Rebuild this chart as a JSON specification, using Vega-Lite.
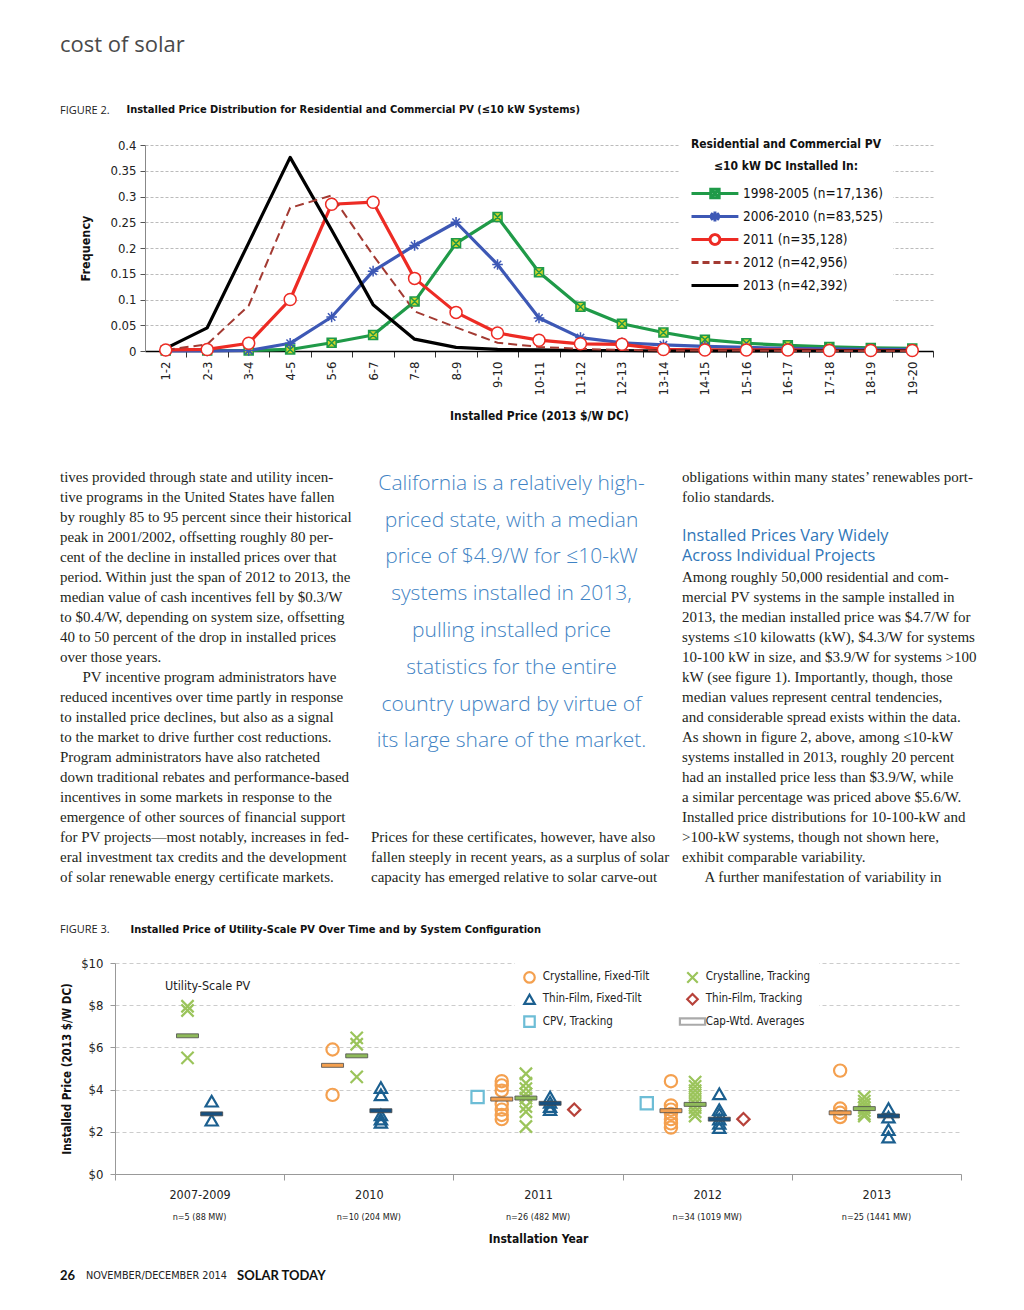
{
  "$schema": "https://vega.github.io/schema/vega-lite/v6.json",
  "background": "white",
  "padding": {"left": 60, "top": 34, "right": 20, "bottom": 10},
  "title": {"text": "cost of solar", "anchor": "start", "font": "Open Sans", "fontSize": 22, "fontWeight": "normal", "color": "#4a4a4a", "offset": 46},
  "columns": 1,
  "align": "none",
  "spacing": 20,
  "resolve": {"scale": {"color": "independent", "stroke": "independent", "shape": "independent", "fill": "independent", "strokeDash": "independent", "size": "independent", "strokeWidth": "independent"}},
  "config": {
    "view": {"stroke": null},
    "axis": {"labelFont": "Liberation Sans Narrow, DejaVu Sans Condensed, Roboto Condensed, Roboto, sans-serif", "titleFont": "Liberation Sans Narrow, DejaVu Sans Condensed, Roboto Condensed, Roboto, sans-serif", "labelColor": "#222", "titleColor": "#111"},
    "legend": {"labelFont": "Liberation Sans Narrow, DejaVu Sans Condensed, Roboto Condensed, Roboto, sans-serif", "titleFont": "Liberation Sans Narrow, DejaVu Sans Condensed, Roboto Condensed, Roboto, sans-serif"},
    "title": {"font": "Open Sans"}
  },
  "datasets": {
    "fig2": [
      {"bin":"1-2","series":"1998-2005 (n=17,136)","freq":0.001},{"bin":"2-3","series":"1998-2005 (n=17,136)","freq":0.001},{"bin":"3-4","series":"1998-2005 (n=17,136)","freq":0.001},{"bin":"4-5","series":"1998-2005 (n=17,136)","freq":0.003},{"bin":"5-6","series":"1998-2005 (n=17,136)","freq":0.016},{"bin":"6-7","series":"1998-2005 (n=17,136)","freq":0.031},{"bin":"7-8","series":"1998-2005 (n=17,136)","freq":0.096},{"bin":"8-9","series":"1998-2005 (n=17,136)","freq":0.209},{"bin":"9-10","series":"1998-2005 (n=17,136)","freq":0.26},{"bin":"10-11","series":"1998-2005 (n=17,136)","freq":0.153},{"bin":"11-12","series":"1998-2005 (n=17,136)","freq":0.086},{"bin":"12-13","series":"1998-2005 (n=17,136)","freq":0.053},{"bin":"13-14","series":"1998-2005 (n=17,136)","freq":0.036},{"bin":"14-15","series":"1998-2005 (n=17,136)","freq":0.022},{"bin":"15-16","series":"1998-2005 (n=17,136)","freq":0.015},{"bin":"16-17","series":"1998-2005 (n=17,136)","freq":0.011},{"bin":"17-18","series":"1998-2005 (n=17,136)","freq":0.008},{"bin":"18-19","series":"1998-2005 (n=17,136)","freq":0.006},{"bin":"19-20","series":"1998-2005 (n=17,136)","freq":0.005},
      {"bin":"1-2","series":"2006-2010 (n=83,525)","freq":0.0},{"bin":"2-3","series":"2006-2010 (n=83,525)","freq":0.0},{"bin":"3-4","series":"2006-2010 (n=83,525)","freq":0.001},{"bin":"4-5","series":"2006-2010 (n=83,525)","freq":0.015},{"bin":"5-6","series":"2006-2010 (n=83,525)","freq":0.066},{"bin":"6-7","series":"2006-2010 (n=83,525)","freq":0.155},{"bin":"7-8","series":"2006-2010 (n=83,525)","freq":0.205},{"bin":"8-9","series":"2006-2010 (n=83,525)","freq":0.25},{"bin":"9-10","series":"2006-2010 (n=83,525)","freq":0.168},{"bin":"10-11","series":"2006-2010 (n=83,525)","freq":0.064},{"bin":"11-12","series":"2006-2010 (n=83,525)","freq":0.026},{"bin":"12-13","series":"2006-2010 (n=83,525)","freq":0.016},{"bin":"13-14","series":"2006-2010 (n=83,525)","freq":0.012},{"bin":"14-15","series":"2006-2010 (n=83,525)","freq":0.009},{"bin":"15-16","series":"2006-2010 (n=83,525)","freq":0.007},{"bin":"16-17","series":"2006-2010 (n=83,525)","freq":0.005},{"bin":"17-18","series":"2006-2010 (n=83,525)","freq":0.004},{"bin":"18-19","series":"2006-2010 (n=83,525)","freq":0.003},{"bin":"19-20","series":"2006-2010 (n=83,525)","freq":0.003},
      {"bin":"1-2","series":"2011 (n=35,128)","freq":0.002},{"bin":"2-3","series":"2011 (n=35,128)","freq":0.003},{"bin":"3-4","series":"2011 (n=35,128)","freq":0.015},{"bin":"4-5","series":"2011 (n=35,128)","freq":0.1},{"bin":"5-6","series":"2011 (n=35,128)","freq":0.285},{"bin":"6-7","series":"2011 (n=35,128)","freq":0.289},{"bin":"7-8","series":"2011 (n=35,128)","freq":0.141},{"bin":"8-9","series":"2011 (n=35,128)","freq":0.075},{"bin":"9-10","series":"2011 (n=35,128)","freq":0.035},{"bin":"10-11","series":"2011 (n=35,128)","freq":0.021},{"bin":"11-12","series":"2011 (n=35,128)","freq":0.014},{"bin":"12-13","series":"2011 (n=35,128)","freq":0.013},{"bin":"13-14","series":"2011 (n=35,128)","freq":0.003},{"bin":"14-15","series":"2011 (n=35,128)","freq":0.002},{"bin":"15-16","series":"2011 (n=35,128)","freq":0.002},{"bin":"16-17","series":"2011 (n=35,128)","freq":0.002},{"bin":"17-18","series":"2011 (n=35,128)","freq":0.001},{"bin":"18-19","series":"2011 (n=35,128)","freq":0.001},{"bin":"19-20","series":"2011 (n=35,128)","freq":0.001},
      {"bin":"1-2","series":"2012 (n=42,956)","freq":0.002},{"bin":"2-3","series":"2012 (n=42,956)","freq":0.013},{"bin":"3-4","series":"2012 (n=42,956)","freq":0.088},{"bin":"4-5","series":"2012 (n=42,956)","freq":0.278},{"bin":"5-6","series":"2012 (n=42,956)","freq":0.302},{"bin":"6-7","series":"2012 (n=42,956)","freq":0.186},{"bin":"7-8","series":"2012 (n=42,956)","freq":0.077},{"bin":"8-9","series":"2012 (n=42,956)","freq":0.046},{"bin":"9-10","series":"2012 (n=42,956)","freq":0.016},{"bin":"10-11","series":"2012 (n=42,956)","freq":0.008},{"bin":"11-12","series":"2012 (n=42,956)","freq":0.004},{"bin":"12-13","series":"2012 (n=42,956)","freq":0.002},{"bin":"13-14","series":"2012 (n=42,956)","freq":0.001},{"bin":"14-15","series":"2012 (n=42,956)","freq":0.001},{"bin":"15-16","series":"2012 (n=42,956)","freq":0.001},{"bin":"16-17","series":"2012 (n=42,956)","freq":0.0},{"bin":"17-18","series":"2012 (n=42,956)","freq":0.0},{"bin":"18-19","series":"2012 (n=42,956)","freq":0.0},{"bin":"19-20","series":"2012 (n=42,956)","freq":0.0},
      {"bin":"1-2","series":"2013 (n=42,392)","freq":0.005},{"bin":"2-3","series":"2013 (n=42,392)","freq":0.045},{"bin":"3-4","series":"2013 (n=42,392)","freq":0.21},{"bin":"4-5","series":"2013 (n=42,392)","freq":0.376},{"bin":"5-6","series":"2013 (n=42,392)","freq":0.235},{"bin":"6-7","series":"2013 (n=42,392)","freq":0.09},{"bin":"7-8","series":"2013 (n=42,392)","freq":0.023},{"bin":"8-9","series":"2013 (n=42,392)","freq":0.007},{"bin":"9-10","series":"2013 (n=42,392)","freq":0.003},{"bin":"10-11","series":"2013 (n=42,392)","freq":0.002},{"bin":"11-12","series":"2013 (n=42,392)","freq":0.001},{"bin":"12-13","series":"2013 (n=42,392)","freq":0.001},{"bin":"13-14","series":"2013 (n=42,392)","freq":0.0},{"bin":"14-15","series":"2013 (n=42,392)","freq":0.0},{"bin":"15-16","series":"2013 (n=42,392)","freq":0.0},{"bin":"16-17","series":"2013 (n=42,392)","freq":0.0},{"bin":"17-18","series":"2013 (n=42,392)","freq":0.0},{"bin":"18-19","series":"2013 (n=42,392)","freq":0.0},{"bin":"19-20","series":"2013 (n=42,392)","freq":0.0}
    ],
    "pts": [
      {"year":"2007-2009","type":"Crystalline, Tracking","price":7.95},{"year":"2007-2009","type":"Crystalline, Tracking","price":7.75},{"year":"2007-2009","type":"Crystalline, Tracking","price":5.5},
      {"year":"2007-2009","type":"Thin-Film, Fixed-Tilt","price":3.45},{"year":"2007-2009","type":"Thin-Film, Fixed-Tilt","price":2.55},
      {"year":"2010","type":"Crystalline, Fixed-Tilt","price":5.9},{"year":"2010","type":"Crystalline, Fixed-Tilt","price":3.75},
      {"year":"2010","type":"Crystalline, Tracking","price":6.45},{"year":"2010","type":"Crystalline, Tracking","price":6.15},{"year":"2010","type":"Crystalline, Tracking","price":4.6},
      {"year":"2010","type":"Thin-Film, Fixed-Tilt","price":4.1},{"year":"2010","type":"Thin-Film, Fixed-Tilt","price":3.75},{"year":"2010","type":"Thin-Film, Fixed-Tilt","price":2.8},{"year":"2010","type":"Thin-Film, Fixed-Tilt","price":2.6},{"year":"2010","type":"Thin-Film, Fixed-Tilt","price":2.45},
      {"year":"2011","type":"CPV, Tracking","price":3.65},
      {"year":"2011","type":"Crystalline, Fixed-Tilt","price":4.4},{"year":"2011","type":"Crystalline, Fixed-Tilt","price":4.2},{"year":"2011","type":"Crystalline, Fixed-Tilt","price":3.95},{"year":"2011","type":"Crystalline, Fixed-Tilt","price":3.3},{"year":"2011","type":"Crystalline, Fixed-Tilt","price":3.05},{"year":"2011","type":"Crystalline, Fixed-Tilt","price":2.8},{"year":"2011","type":"Crystalline, Fixed-Tilt","price":2.6},
      {"year":"2011","type":"Crystalline, Tracking","price":4.75},{"year":"2011","type":"Crystalline, Tracking","price":4.3},{"year":"2011","type":"Crystalline, Tracking","price":4.05},{"year":"2011","type":"Crystalline, Tracking","price":3.8},{"year":"2011","type":"Crystalline, Tracking","price":3.6},{"year":"2011","type":"Crystalline, Tracking","price":3.2},{"year":"2011","type":"Crystalline, Tracking","price":2.95},{"year":"2011","type":"Crystalline, Tracking","price":2.25},
      {"year":"2011","type":"Thin-Film, Fixed-Tilt","price":3.65},{"year":"2011","type":"Thin-Film, Fixed-Tilt","price":3.4},{"year":"2011","type":"Thin-Film, Fixed-Tilt","price":3.2},{"year":"2011","type":"Thin-Film, Fixed-Tilt","price":3.05},
      {"year":"2011","type":"Thin-Film, Tracking","price":3.05},
      {"year":"2012","type":"CPV, Tracking","price":3.35},
      {"year":"2012","type":"Crystalline, Fixed-Tilt","price":4.4},{"year":"2012","type":"Crystalline, Fixed-Tilt","price":3.25},{"year":"2012","type":"Crystalline, Fixed-Tilt","price":3.05},{"year":"2012","type":"Crystalline, Fixed-Tilt","price":2.85},{"year":"2012","type":"Crystalline, Fixed-Tilt","price":2.6},{"year":"2012","type":"Crystalline, Fixed-Tilt","price":2.4},{"year":"2012","type":"Crystalline, Fixed-Tilt","price":2.2},
      {"year":"2012","type":"Crystalline, Tracking","price":4.35},{"year":"2012","type":"Crystalline, Tracking","price":4.15},{"year":"2012","type":"Crystalline, Tracking","price":3.95},{"year":"2012","type":"Crystalline, Tracking","price":3.75},{"year":"2012","type":"Crystalline, Tracking","price":3.55},{"year":"2012","type":"Crystalline, Tracking","price":3.35},{"year":"2012","type":"Crystalline, Tracking","price":3.15},{"year":"2012","type":"Crystalline, Tracking","price":2.95},{"year":"2012","type":"Crystalline, Tracking","price":2.75},
      {"year":"2012","type":"Thin-Film, Fixed-Tilt","price":3.8},{"year":"2012","type":"Thin-Film, Fixed-Tilt","price":3.05},{"year":"2012","type":"Thin-Film, Fixed-Tilt","price":2.85},{"year":"2012","type":"Thin-Film, Fixed-Tilt","price":2.6},{"year":"2012","type":"Thin-Film, Fixed-Tilt","price":2.4},{"year":"2012","type":"Thin-Film, Fixed-Tilt","price":2.2},
      {"year":"2012","type":"Thin-Film, Tracking","price":2.6},
      {"year":"2013","type":"Crystalline, Fixed-Tilt","price":4.9},{"year":"2013","type":"Crystalline, Fixed-Tilt","price":3.1},{"year":"2013","type":"Crystalline, Fixed-Tilt","price":2.9},{"year":"2013","type":"Crystalline, Fixed-Tilt","price":2.7},
      {"year":"2013","type":"Crystalline, Tracking","price":3.65},{"year":"2013","type":"Crystalline, Tracking","price":3.45},{"year":"2013","type":"Crystalline, Tracking","price":3.3},{"year":"2013","type":"Crystalline, Tracking","price":3.15},{"year":"2013","type":"Crystalline, Tracking","price":3.0},{"year":"2013","type":"Crystalline, Tracking","price":2.85},{"year":"2013","type":"Crystalline, Tracking","price":2.75},
      {"year":"2013","type":"Thin-Film, Fixed-Tilt","price":3.1},{"year":"2013","type":"Thin-Film, Fixed-Tilt","price":2.7},{"year":"2013","type":"Thin-Film, Fixed-Tilt","price":2.1},{"year":"2013","type":"Thin-Film, Fixed-Tilt","price":1.75}
    ],
    "avgs": [
      {"year":"2007-2009","type":"Crystalline, Tracking","price":6.55},{"year":"2007-2009","type":"Thin-Film, Fixed-Tilt","price":2.85},
      {"year":"2010","type":"Crystalline, Fixed-Tilt","price":5.15},{"year":"2010","type":"Crystalline, Tracking","price":5.6},{"year":"2010","type":"Thin-Film, Fixed-Tilt","price":3.0},
      {"year":"2011","type":"Crystalline, Fixed-Tilt","price":3.55},{"year":"2011","type":"Crystalline, Tracking","price":3.6},{"year":"2011","type":"Thin-Film, Fixed-Tilt","price":3.35},
      {"year":"2012","type":"Crystalline, Fixed-Tilt","price":3.0},{"year":"2012","type":"Crystalline, Tracking","price":3.3},{"year":"2012","type":"Thin-Film, Fixed-Tilt","price":2.6},
      {"year":"2013","type":"Crystalline, Fixed-Tilt","price":2.9},{"year":"2013","type":"Crystalline, Tracking","price":3.1},{"year":"2013","type":"Thin-Film, Fixed-Tilt","price":2.75}
    ],
    "body": [
      {"col":"L","line":0,"text":"tives provided through state and utility incen-"},
      {"col":"L","line":1,"text":"tive programs in the United States have fallen"},
      {"col":"L","line":2,"text":"by roughly 85 to 95 percent since their historical"},
      {"col":"L","line":3,"text":"peak in 2001/2002, offsetting roughly 80 per-"},
      {"col":"L","line":4,"text":"cent of the decline in installed prices over that"},
      {"col":"L","line":5,"text":"period. Within just the span of 2012 to 2013, the"},
      {"col":"L","line":6,"text":"median value of cash incentives fell by $0.3/W"},
      {"col":"L","line":7,"text":"to $0.4/W, depending on system size, offsetting"},
      {"col":"L","line":8,"text":"40 to 50 percent of the drop in installed prices"},
      {"col":"L","line":9,"text":"over those years."},
      {"col":"L","line":10,"text":"\u200b\u2003\u2002PV incentive program administrators have"},
      {"col":"L","line":11,"text":"reduced incentives over time partly in response"},
      {"col":"L","line":12,"text":"to installed price declines, but also as a signal"},
      {"col":"L","line":13,"text":"to the market to drive further cost reductions."},
      {"col":"L","line":14,"text":"Program administrators have also ratcheted"},
      {"col":"L","line":15,"text":"down traditional rebates and performance-based"},
      {"col":"L","line":16,"text":"incentives in some markets in response to the"},
      {"col":"L","line":17,"text":"emergence of other sources of financial support"},
      {"col":"L","line":18,"text":"for PV projects\u2014most notably, increases in fed-"},
      {"col":"L","line":19,"text":"eral investment tax credits and the development"},
      {"col":"L","line":20,"text":"of solar renewable energy certificate markets."},
      {"col":"C","line":18,"text":"Prices for these certificates, however, have also"},
      {"col":"C","line":19,"text":"fallen steeply in recent years, as a surplus of solar"},
      {"col":"C","line":20,"text":"capacity has emerged relative to solar carve-out"},
      {"col":"R","line":0,"text":"obligations within many states\u2019 renewables port-"},
      {"col":"R","line":1,"text":"folio standards."},
      {"col":"R","line":5,"text":"Among roughly 50,000 residential and com-"},
      {"col":"R","line":6,"text":"mercial PV systems in the sample installed in"},
      {"col":"R","line":7,"text":"2013, the median installed price was $4.7/W for"},
      {"col":"R","line":8,"text":"systems \u226410 kilowatts (kW), $4.3/W for systems"},
      {"col":"R","line":9,"text":"10-100 kW in size, and $3.9/W for systems >100"},
      {"col":"R","line":10,"text":"kW (see figure 1). Importantly, though, those"},
      {"col":"R","line":11,"text":"median values represent central tendencies,"},
      {"col":"R","line":12,"text":"and considerable spread exists within the data."},
      {"col":"R","line":13,"text":"As shown in figure 2, above, among \u226410-kW"},
      {"col":"R","line":14,"text":"systems installed in 2013, roughly 20 percent"},
      {"col":"R","line":15,"text":"had an installed price less than $3.9/W, while"},
      {"col":"R","line":16,"text":"a similar percentage was priced above $5.6/W."},
      {"col":"R","line":17,"text":"Installed price distributions for 10-100-kW and"},
      {"col":"R","line":18,"text":">100-kW systems, though not shown here,"},
      {"col":"R","line":19,"text":"exhibit comparable variability."},
      {"col":"R","line":20,"text":"\u200b\u2003\u2002A further manifestation of variability in"}
    ],
    "quote": [
      {"col":"C","line":0.35,"text":"California is a relatively high-"},
      {"col":"C","line":2.2,"text":"priced state, with a median"},
      {"col":"C","line":4.0,"text":"price of $4.9/W for \u226410-kW"},
      {"col":"C","line":5.85,"text":"systems installed in 2013,"},
      {"col":"C","line":7.7,"text":"pulling installed price"},
      {"col":"C","line":9.55,"text":"statistics for the entire"},
      {"col":"C","line":11.4,"text":"country upward by virtue of"},
      {"col":"C","line":13.2,"text":"its large share of the market."}
    ],
    "heading": [
      {"col":"R","line":2.95,"text":"Installed Prices Vary Widely"},
      {"col":"R","line":3.95,"text":"Across Individual Projects"}
    ],
    "footer": [
      {"part":"num","text":"26"},
      {"part":"date","text":"NOVEMBER/DECEMBER 2014"},
      {"part":"mag","text":"SOLAR TODAY"}
    ]
  },
  "concat": [
    {
      "width": 788,
      "height": 206,
      "title": {"text": "FIGURE 2.", "anchor": "start", "frame": "group", "dx": -85, "offset": -13, "font": "Open Sans", "fontSize": 11, "fontWeight": "normal", "color": "#222"},
      "data": {"name": "fig2"},
      "encoding": {
        "y": {"field": "freq", "type": "quantitative", "title": "Frequency", "scale": {"domain": [0, 0.4], "nice": false},
          "axis": {"values": [0, 0.05, 0.1, 0.15, 0.2, 0.25, 0.3, 0.35, 0.4], "format": ".2~f", "grid": true, "gridColor": "#bbbbbb", "gridDash": [3, 2], "domainColor": "#888", "tickColor": "#555", "tickSize": 5, "labelFontSize": 13, "labelPadding": 4, "titleFontSize": 12.5, "titleFontWeight": "bold", "titlePadding": 17}}
      },
      "layer": [
        {
          "transform": [{"filter": "datum.series != '2012 (n=42,956)'"}],
          "mark": {"type": "line", "strokeWidth": 3.2, "strokeJoin": "round"},
          "encoding": {
            "x": {"field": "bin", "type": "nominal", "sort": null, "scale": {"type": "point", "padding": 0.5, "domain": ["1-2","2-3","3-4","4-5","5-6","6-7","7-8","8-9","9-10","10-11","11-12","12-13","13-14","14-15","15-16","16-17","17-18","18-19","19-20"]},
              "axis": {"orient": "bottom", "labelAngle": -90, "labelFontSize": 13, "labelPadding": 4, "tickSize": 6, "tickColor": "#333", "tickOffset": 20.74, "labelOffset": -20.74, "domainColor": "#000", "domainWidth": 1.5, "grid": false, "title": "Installed Price (2013 $/W DC)", "titleFontSize": 12, "titleFontWeight": "bold", "titlePadding": 16}},
            "color": {"field": "series", "type": "nominal", "scale": {"domain": ["1998-2005 (n=17,136)","2006-2010 (n=83,525)","2011 (n=35,128)","2012 (n=42,956)","2013 (n=42,392)"], "range": ["#1f9a48","#3d58b5","#ed2b24","#a33a32","#000000"]}, "legend": null}
          }
        },
        {
          "transform": [{"filter": "datum.series == '2012 (n=42,956)'"}],
          "mark": {"type": "line", "strokeWidth": 2, "strokeDash": [9, 5]},
          "encoding": {
            "x": {"field": "bin", "type": "nominal", "sort": null, "scale": {"type": "point", "padding": 0.5, "domain": ["1-2","2-3","3-4","4-5","5-6","6-7","7-8","8-9","9-10","10-11","11-12","12-13","13-14","14-15","15-16","16-17","17-18","18-19","19-20"]}, "axis": null},
            "color": {"field": "series", "type": "nominal", "scale": {"domain": ["1998-2005 (n=17,136)","2006-2010 (n=83,525)","2011 (n=35,128)","2012 (n=42,956)","2013 (n=42,392)"], "range": ["#1f9a48","#3d58b5","#ed2b24","#a33a32","#000000"]}, "legend": null}
          }
        },
        {
          "transform": [{"filter": "indexof(['1998-2005 (n=17,136)','2006-2010 (n=83,525)','2011 (n=35,128)'], datum.series) >= 0"}],
          "mark": {"type": "point", "opacity": 1},
          "encoding": {
            "x": {"field": "bin", "type": "nominal", "sort": null, "scale": {"type": "point", "padding": 0.5, "domain": ["1-2","2-3","3-4","4-5","5-6","6-7","7-8","8-9","9-10","10-11","11-12","12-13","13-14","14-15","15-16","16-17","17-18","18-19","19-20"]},
              "axis": {"orient": "top", "domain": false, "ticks": false, "labels": false, "grid": false, "title": "Installed Price Distribution for Residential and Commercial PV (\u226410 kW Systems)", "titleFontSize": 11, "titleFontWeight": "bold", "titleX": -19, "titleY": -36, "titleAlign": "left", "titleBaseline": "middle", "titleAngle": 0}},
            "shape": {"field": "series", "type": "nominal", "scale": {"domain": ["1998-2005 (n=17,136)","2006-2010 (n=83,525)","2011 (n=35,128)"], "range": ["M-1,-1L1,-1L1,1L-1,1ZM-1,-1L1,1M-1,1L1,-1", "M-1,0L1,0M0,-1L0,1M-0.7,-0.7L0.7,0.7M-0.7,0.7L0.7,-0.7", "circle"]}, "legend": null},
            "fill": {"field": "series", "type": "nominal", "scale": {"domain": ["1998-2005 (n=17,136)","2006-2010 (n=83,525)","2011 (n=35,128)"], "range": ["#d0d52a", "transparent", "#ffffff"]}, "legend": null},
            "stroke": {"field": "series", "type": "nominal", "scale": {"domain": ["1998-2005 (n=17,136)","2006-2010 (n=83,525)","2011 (n=35,128)"], "range": ["#1f9a48","#3d58b5","#ed2b24"]}, "legend": null},
            "size": {"field": "series", "type": "nominal", "scale": {"domain": ["1998-2005 (n=17,136)","2006-2010 (n=83,525)","2011 (n=35,128)"], "range": [81, 144, 196]}, "legend": null},
            "strokeWidth": {"field": "series", "type": "nominal", "scale": {"domain": ["1998-2005 (n=17,136)","2006-2010 (n=83,525)","2011 (n=35,128)"], "range": [1.5, 1.5, 2]}, "legend": null}
          }
        },
        {
          "transform": [{"filter": "datum.freq < 0"}],
          "mark": {"type": "point", "filled": true, "fill": "white", "opacity": 1, "strokeWidth": 3},
          "encoding": {
            "x": {"field": "bin", "type": "nominal", "sort": null, "scale": {"type": "point", "padding": 0.5, "domain": ["1-2","2-3","3-4","4-5","5-6","6-7","7-8","8-9","9-10","10-11","11-12","12-13","13-14","14-15","15-16","16-17","17-18","18-19","19-20"]}, "axis": null},
            "stroke": {"field": "series", "type": "nominal", "title": ["Residential and Commercial PV", "\u226410 kW DC Installed In:"],
              "scale": {"domain": ["1998-2005 (n=17,136)","2006-2010 (n=83,525)","2011 (n=35,128)","2012 (n=42,956)","2013 (n=42,392)"], "range": ["#1f9a48","#3d58b5","#ed2b24","#a33a32","#000000"]},
              "legend": {"orient": "none", "legendX": 535, "legendY": -16, "direction": "vertical", "padding": 10, "fillColor": "white", "symbolSize": 196, "symbolStrokeWidth": 3, "labelOffset": 36, "labelFontSize": 13.5, "labelColor": "#111", "labelLimit": 300, "rowPadding": 0, "titleFontSize": 12, "titleFontWeight": "bold", "titleColor": "#111", "titleAlign": "center", "titleAnchor": "middle", "titleLineHeight": 22, "titlePadding": 12, "titleLimit": 400}},
            "shape": {"field": "series", "type": "nominal", "title": ["Residential and Commercial PV", "\u226410 kW DC Installed In:"],
              "scale": {"domain": ["1998-2005 (n=17,136)","2006-2010 (n=83,525)","2011 (n=35,128)","2012 (n=42,956)","2013 (n=42,392)"], "range": [
                "M2.35,-0.7L2.35,-0.7M2.35,0.7L2.35,0.7M-1,0L1.75,0M2.95,0L5.7,0M1.75,-0.6L2.95,-0.6L2.95,0.6L1.75,0.6ZM1.75,-0.6L2.95,0.6M1.75,0.6L2.95,-0.6",
                "M2.35,-0.7L2.35,-0.7M2.35,0.7L2.35,0.7M-1,0L5.7,0M2.35,-0.7L2.35,0.7M1.75,-0.45L2.95,0.45M1.75,0.45L2.95,-0.45",
                "M-1,0L1.65,0M3.05,0L5.7,0M1.65,0A0.7,0.7,0,1,1,3.05,0A0.7,0.7,0,1,1,1.65,0Z",
                "M2.35,-0.7L2.35,-0.7M2.35,0.7L2.35,0.7M-1,0L5.7,0",
                "M2.35,-0.7L2.35,-0.7M2.35,0.7L2.35,0.7M-1,0L5.7,0"]}},
            "strokeDash": {"field": "series", "type": "nominal", "title": ["Residential and Commercial PV", "\u226410 kW DC Installed In:"],
              "scale": {"domain": ["1998-2005 (n=17,136)","2006-2010 (n=83,525)","2011 (n=35,128)","2012 (n=42,956)","2013 (n=42,392)"], "range": [[1, 0], [1, 0], [1, 0], [7, 4], [1, 0]]}}
          }
        }
      ],
      "resolve": {"axis": {"x": "independent"}, "scale": {"shape": "independent", "fill": "independent", "stroke": "independent", "strokeDash": "independent", "size": "independent", "strokeWidth": "independent"}}
    },
    {
      "width": 903,
      "height": 461,
      "layer": [
        {
          "data": {"name": "body"},
          "mark": {"type": "text", "align": "left", "baseline": "middle", "font": "Liberation Serif", "fontSize": 15, "color": "#231f20"},
          "encoding": {
            "x": {"field": "col", "type": "nominal", "scale": {"type": "band", "domain": ["L", "C", "R"], "range": [-85, 818], "paddingInner": 0.0965, "paddingOuter": 0}, "bandPosition": 0, "axis": null},
            "y": {"field": "line", "type": "quantitative", "scale": {"domain": [-1.75, 21.3], "reverse": true, "nice": false, "zero": false}, "axis": null},
            "text": {"field": "text"}
          }
        },
        {
          "data": {"name": "quote"},
          "mark": {"type": "text", "align": "center", "baseline": "middle", "font": "Open Sans", "fontSize": 21, "fontWeight": 300, "color": "#3f83c4"},
          "encoding": {
            "x": {"field": "col", "type": "nominal", "scale": {"type": "band", "domain": ["L", "C", "R"], "range": [-85, 818], "paddingInner": 0.0965, "paddingOuter": 0}, "bandPosition": 0.5, "axis": null},
            "y": {"field": "line", "type": "quantitative", "scale": {"domain": [-1.75, 21.3], "reverse": true, "nice": false, "zero": false}, "axis": null},
            "text": {"field": "text"}
          }
        },
        {
          "data": {"name": "heading"},
          "mark": {"type": "text", "align": "left", "baseline": "middle", "font": "Open Sans", "fontSize": 16.3, "color": "#2f76b8"},
          "encoding": {
            "x": {"field": "col", "type": "nominal", "scale": {"type": "band", "domain": ["L", "C", "R"], "range": [-85, 818], "paddingInner": 0.0965, "paddingOuter": 0}, "bandPosition": 0, "axis": null},
            "y": {"field": "line", "type": "quantitative", "scale": {"domain": [-1.75, 21.3], "reverse": true, "nice": false, "zero": false}, "axis": null},
            "text": {"field": "text"}
          }
        }
      ]
    },
    {
      "width": 846,
      "height": 211,
      "title": {"text": "FIGURE 3.", "anchor": "start", "frame": "group", "dx": -85, "offset": -12, "font": "Open Sans", "fontSize": 11, "fontWeight": "normal", "color": "#222"},
      "encoding": {
        "y": {"field": "price", "type": "quantitative", "title": "Installed Price (2013 $/W DC)", "scale": {"domain": [0, 10], "nice": false},
          "axis": {"values": [0, 2, 4, 6, 8, 10], "format": "$.0f", "offset": 30, "grid": true, "gridColor": "#cccccc", "gridDash": [4, 3], "domainColor": "#999", "tickColor": "#999", "tickSize": 5, "labelFontSize": 13, "labelPadding": 7, "titleFontSize": 11.5, "titleFontWeight": "bold", "titlePadding": 8}}
      },
      "layer": [
        {
          "data": {"name": "pts"},
          "mark": {"type": "point", "filled": false, "opacity": 1, "strokeWidth": 2.2, "size": 150},
          "encoding": {
            "x": {"field": "year", "type": "nominal", "scale": {"type": "band", "domain": ["2007-2009", "2010", "2011", "2012", "2013"], "range": [-30, 816], "paddingInner": 0, "paddingOuter": 0},
              "axis": {"orient": "bottom", "tickBand": "extent", "tickSize": 6, "tickColor": "#999", "domainColor": "#999", "labelFontSize": 12.5, "labelPadding": 8, "labelAngle": 0, "grid": false, "title": null}},
            "xOffset": {"field": "type", "type": "nominal", "scale": {"domain": ["CPV, Tracking", "Crystalline, Fixed-Tilt", "Crystalline, Tracking", "Thin-Film, Fixed-Tilt", "Thin-Film, Tracking", "zz"], "paddingInner": 0, "paddingOuter": 1.98}},
            "stroke": {"field": "type", "type": "nominal", "title": null,
              "scale": {"domain": ["Crystalline, Fixed-Tilt", "Thin-Film, Fixed-Tilt", "CPV, Tracking", "Crystalline, Tracking", "Thin-Film, Tracking", "Cap-Wtd. Averages"], "range": ["#f4a04f", "#1b5f8f", "#6dbdd6", "#9bc45b", "#b7423a", "#aaaaaa"]},
              "legend": {"orient": "none", "legendX": 370, "legendY": -0.5, "columns": 2, "columnPadding": 25, "rowPadding": 1.3, "symbolSize": 110, "symbolStrokeWidth": 2.2, "labelFontSize": 11.5, "labelColor": "#222", "labelOffset": 6.75, "labelLimit": 300, "padding": 8, "fillColor": "white"}},
            "shape": {"field": "type", "type": "nominal", "title": null,
              "scale": {"domain": ["Crystalline, Fixed-Tilt", "Thin-Film, Fixed-Tilt", "CPV, Tracking", "Crystalline, Tracking", "Thin-Film, Tracking", "Cap-Wtd. Averages"], "range": ["circle", "triangle-up", "square", "M-1,-1L1,1M-1,1L1,-1", "diamond", "M-2.4,-0.6L2.4,-0.6L2.4,0.6L-2.4,0.6Z"]}}
          }
        },
        {
          "data": {"name": "avgs"},
          "mark": {"type": "point", "filled": true, "opacity": 1, "shape": "M-1,-0.18L1,-0.18L1,0.18L-1,0.18Z", "size": 484, "stroke": "#4a4a4a", "strokeWidth": 0.8},
          "encoding": {
            "x": {"field": "year", "type": "nominal", "scale": {"type": "band", "domain": ["2007-2009", "2010", "2011", "2012", "2013"], "range": [-30, 816], "paddingInner": 0, "paddingOuter": 0},
              "axis": {"orient": "bottom", "domain": false, "ticks": false, "tickSize": 0, "labelPadding": 38, "labelFontSize": 9, "labelAngle": 0, "grid": false,
                "labelExpr": "datum.label == '2007-2009' ? 'n=5 (88 MW)' : datum.label == '2010' ? 'n=10 (204 MW)' : datum.label == '2011' ? 'n=26 (482 MW)' : datum.label == '2012' ? 'n=34 (1019 MW)' : 'n=25 (1441 MW)'",
                "title": "Installation Year", "titleFontSize": 12, "titleFontWeight": "bold", "titlePadding": 12}},
            "xOffset": {"field": "type", "type": "nominal", "scale": {"domain": ["CPV, Tracking", "Crystalline, Fixed-Tilt", "Crystalline, Tracking", "Thin-Film, Fixed-Tilt", "Thin-Film, Tracking", "zz"], "paddingInner": 0, "paddingOuter": 1.98}},
            "fill": {"field": "type", "type": "nominal", "scale": {"domain": ["Crystalline, Fixed-Tilt", "Crystalline, Tracking", "Thin-Film, Fixed-Tilt"], "range": ["#f4a04f", "#8fba5a", "#17507f"]}, "legend": null}
          }
        },
        {
          "data": {"values": [{"year": "2007-2009", "price": 8.9, "label": "Utility-Scale PV"}]},
          "mark": {"type": "text", "font": "Liberation Sans Narrow, DejaVu Sans Condensed, Roboto Condensed, Roboto, sans-serif", "fontSize": 12.5, "color": "#222", "dx": 8, "baseline": "middle"},
          "encoding": {
            "x": {"field": "year", "type": "nominal", "scale": {"type": "band", "domain": ["2007-2009", "2010", "2011", "2012", "2013"], "range": [-30, 816], "paddingInner": 0, "paddingOuter": 0},
              "axis": {"orient": "top", "domain": false, "ticks": false, "labels": false, "grid": false, "title": "Installed Price of Utility-Scale PV Over Time and by System Configuration", "titleFontSize": 11, "titleFontWeight": "bold", "titleX": -15, "titleY": -34, "titleAlign": "left", "titleBaseline": "middle", "titleAngle": 0}},
            "text": {"field": "label"}
          }
        }
      ],
      "resolve": {"axis": {"x": "independent"}}
    },
    {
      "width": 903,
      "height": 24,
      "data": {"name": "footer"},
      "layer": [
        {
          "transform": [{"filter": "datum.part == 'num'"}],
          "mark": {"type": "text", "align": "left", "baseline": "middle", "font": "Lato", "fontWeight": "bold", "fontSize": 13, "color": "#111"},
          "encoding": {"x": {"datum": 0, "type": "quantitative", "scale": {"domain": [0, 1], "range": [-85, 818]}, "axis": null}, "text": {"field": "text"}}
        },
        {
          "transform": [{"filter": "datum.part == 'date'"}],
          "mark": {"type": "text", "align": "left", "baseline": "middle", "font": "Liberation Sans Narrow, DejaVu Sans Condensed, Roboto Condensed, Roboto, sans-serif", "fontSize": 10.8, "color": "#222", "dx": 26},
          "encoding": {"x": {"datum": 0, "type": "quantitative", "scale": {"domain": [0, 1], "range": [-85, 818]}, "axis": null}, "text": {"field": "text"}}
        },
        {
          "transform": [{"filter": "datum.part == 'mag'"}],
          "mark": {"type": "text", "align": "left", "baseline": "middle", "font": "Lato", "fontWeight": "bold", "fontSize": 13, "color": "#111", "dx": 177},
          "encoding": {"x": {"datum": 0, "type": "quantitative", "scale": {"domain": [0, 1], "range": [-85, 818]}, "axis": null}, "text": {"field": "text"}}
        }
      ]
    }
  ]
}
